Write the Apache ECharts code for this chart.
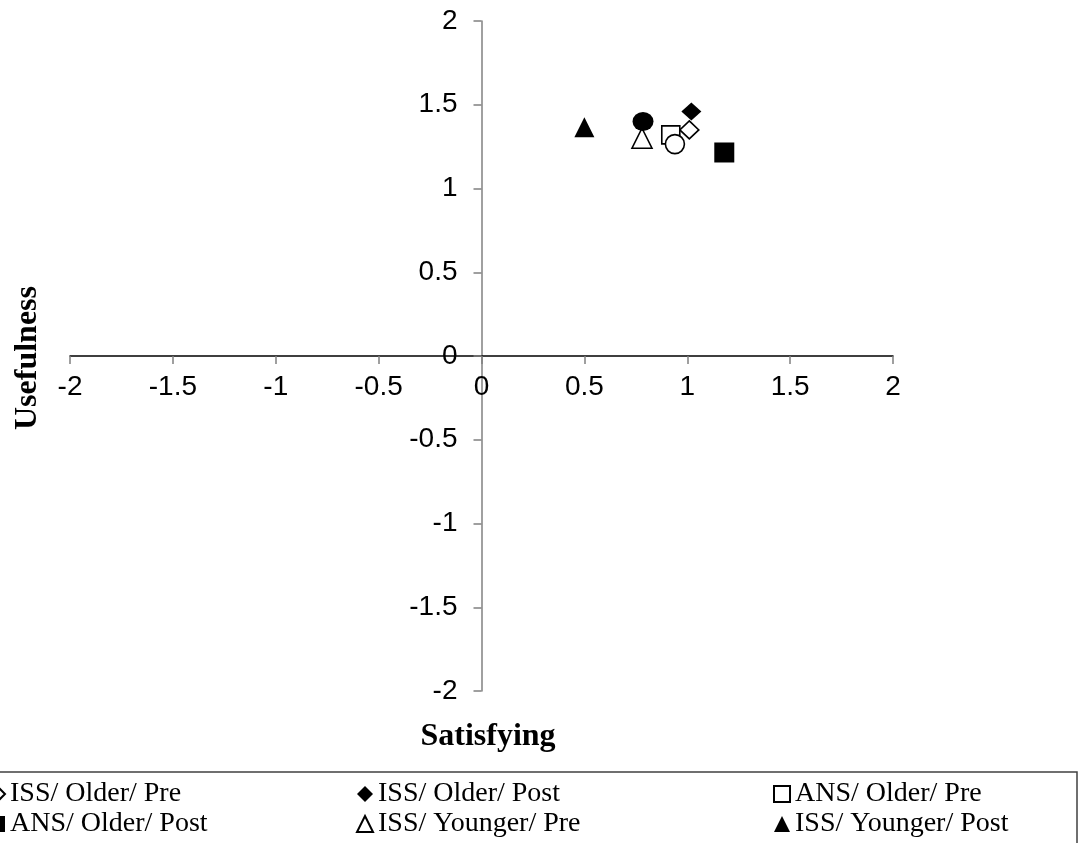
<!DOCTYPE html>
<html>
<head>
<meta charset="utf-8">
<script src="https://cdn.jsdelivr.net/npm/echarts@6/dist/echarts.min.js"></script>
<style>
  html, body { margin: 0; padding: 0; background: #fff; }
  #chart { width: 1081px; height: 843px; }
</style>
</head>
<body>
<div id="chart"></div>
<script>
var myChart = echarts.init(document.getElementById('chart'));

// series, in legend order (row by row)
let names = ['ISS/ Older/ Pre', 'ISS/ Older/ Post', 'ANS/ Older/ Pre',
             'ANS/ Older/ Post', 'ISS/ Younger/ Pre', 'ISS/ Younger/ Post',
             'ANS/ Younger/ Pre', 'ANS/ Younger/ Post'];
let satisfying = [1.01, 1.02, 0.92, 1.18, 0.78, 0.50, 0.94, 0.785];
let usefulness = [1.35, 1.46, 1.32, 1.215, 1.30, 1.365, 1.265, 1.40];

// marker look for each series
let symbols = ['diamond', 'diamond', 'rect', 'rect', 'triangle', 'triangle', 'circle', 'circle'];
let filled = [false, true, false, true, false, true, false, true];
let sizes = [[19, 18], [20, 18], 18, 20, 20, 20, 19, [21, 19]];

let series = names.map(function (n, i) {
  return {
    name: n,
    type: 'scatter',
    symbol: symbols[i],
    symbolSize: sizes[i],
    data: [[satisfying[i], usefulness[i]]],
    itemStyle: {
      color: filled[i] ? '#000' : '#fff',
      borderColor: '#000',
      borderWidth: filled[i] ? 0 : 1.6,
      opacity: 1
    },
    emphasis: { disabled: true }
  };
});

let tickFont = { fontFamily: 'Liberation Sans', fontSize: 28, color: '#000' };
let legendText = { fontFamily: 'Liberation Serif', fontSize: 28, color: '#000', lineHeight: 30 };

function legendCol(left, items) {
  return {
    orient: 'vertical',
    left: left,
    top: 774,
    height: 200,
    itemGap: 0,
    itemWidth: 16,
    itemHeight: 16,
    selectedMode: false,
    data: items,
    textStyle: legendText
  };
}

// grid spans 70..893 x 21..691; zero lines sit at x=481.5, y=356
var option = {
  animation: false,
  grid: { left: 70, right: 188, top: 21, bottom: 152, containLabel: false, outerBoundsMode: 'none' },
  xAxis: {
    type: 'value',
    min: -2, max: 2, interval: 0.5,
    offset: -335,
    axisLine: { onZero: false, lineStyle: { color: '#000', width: 1.5 } },
    axisTick: { length: 8, lineStyle: { color: '#808080', width: 1.5 } },
    axisLabel: Object.assign({ margin: 17 }, tickFont),
    splitLine: { show: false }
  },
  yAxis: {
    type: 'value',
    min: -2, max: 2, interval: 0.5,
    offset: -411.5,
    axisLine: { onZero: false, lineStyle: { color: '#808080', width: 1.5 } },
    axisTick: { length: 8, lineStyle: { color: '#808080', width: 1.5 } },
    axisLabel: Object.assign({ margin: 24 }, tickFont),
    splitLine: { show: false }
  },
  legend: [
    legendCol(-17, [names[0], names[3], names[6]]),
    legendCol(351, [names[1], names[4], names[7]]),
    legendCol(768, [names[2], names[5]])
  ],
  graphic: [
    {
      type: 'rect',
      shape: { x: -10, y: 772, width: 1087, height: 200 },
      style: { fill: 'none', stroke: '#404040', lineWidth: 1.5 }
    },
    {
      type: 'text',
      x: 488, y: 737,
      style: { text: 'Satisfying', fontFamily: 'Liberation Serif', fontWeight: 'bold', fontSize: 32,
               fill: '#000', textAlign: 'center', textVerticalAlign: 'middle' }
    },
    {
      type: 'text',
      x: 28, y: 358, rotation: Math.PI / 2,
      style: { text: 'Usefulness', fontFamily: 'Liberation Serif', fontWeight: 'bold', fontSize: 32,
               fill: '#000', textAlign: 'center', textVerticalAlign: 'middle' }
    }
  ],
  series: series
};
myChart.setOption(option);
</script>
</body>
</html>
